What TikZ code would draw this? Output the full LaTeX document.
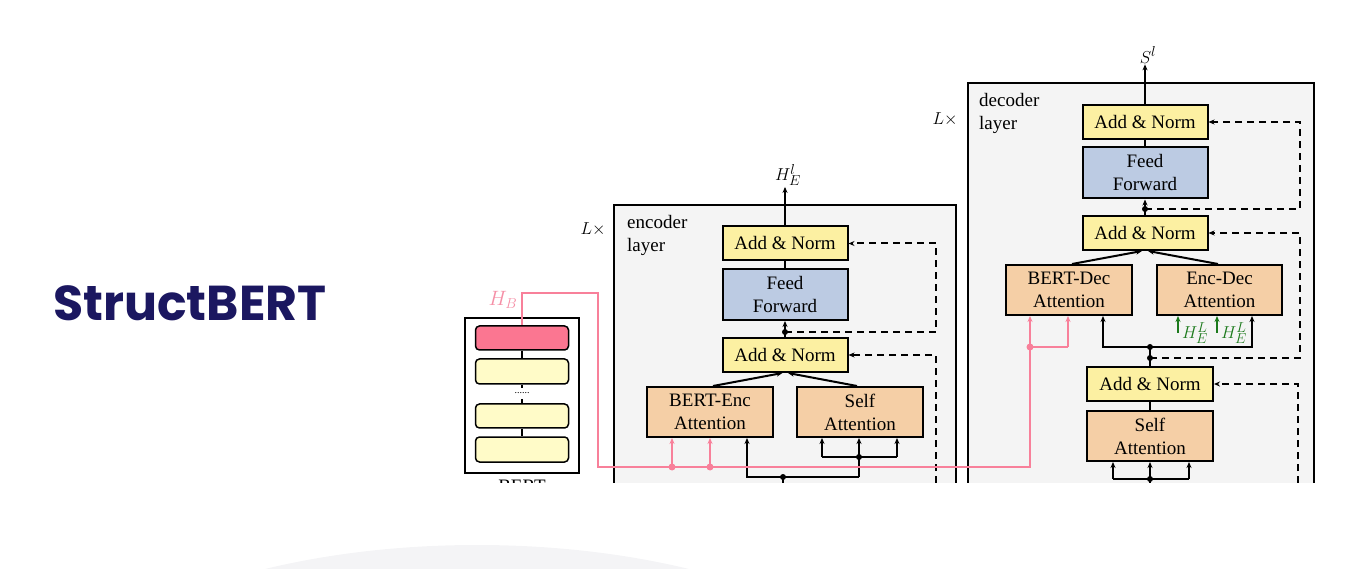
\documentclass[tikz,border=0pt]{standalone}
\usepackage{fontspec}
\setmainfont{Liberation Serif}
\newfontfamily\poppins{Poppins}
\usetikzlibrary{arrows.meta}
\definecolor{navy}{HTML}{1B1760}
\definecolor{arcgray}{HTML}{F4F4F6}
\definecolor{layergray}{HTML}{F4F4F4}
\definecolor{anyellow}{HTML}{FCF0A2}
\definecolor{ffblue}{HTML}{BCCBE3}
\definecolor{attpeach}{HTML}{F5CFA6}
\definecolor{pinkblock}{HTML}{FB7691}
\definecolor{bertyellow}{HTML}{FFFBC8}
\definecolor{pinkc}{HTML}{F8809A}
\definecolor{hbpink}{HTML}{F58FA6}
\definecolor{greenc}{HTML}{1C7A1C}
\begin{document}
\begin{tikzpicture}[x=1pt,y=-1pt,
  txt/.style={font=\fontsize{19}{23}\selectfont},
  box/.style={draw=black, line width=2pt, inner sep=0pt, align=center, txt},
  an/.style={box, fill=anyellow, minimum width=125pt, minimum height=34pt},
  ff/.style={box, fill=ffblue, minimum width=125pt, minimum height=51pt},
  att/.style={box, fill=attpeach, minimum width=126pt, minimum height=50pt},
  layerbox/.style={draw=black, line width=1.8pt, fill=layergray},
  tip/.style={-{Stealth[length=6pt,width=5pt]}},
  arr/.style={line width=2pt, tip},
  conn/.style={line width=2pt},
  dashline/.style={line width=2pt, dash pattern=on 7pt off 5pt, tip},
  pinkline/.style={draw=pinkc, line width=2pt},
  pinkarr/.style={draw=pinkc, line width=2pt, -{Stealth[length=6pt,width=5pt,fill=pinkc]}},
  greenarr/.style={draw=greenc, line width=2pt, -{Stealth[length=6pt,width=5pt,fill=greenc]}},
  bblock/.style={draw=black, line width=1.5pt, rounded corners=4pt, minimum width=93pt, inner sep=0pt},
  lab/.style={inner sep=1pt, txt}
]
\useasboundingbox (0,0) rectangle (1345,569);
\fill[arcgray] (477,745) ellipse [x radius=446pt, y radius=200pt];
\node[anchor=base west, inner sep=0pt, text=navy, font=\poppins\bfseries\fontsize{49}{59}\selectfont] (title) at (53,321) {StructBERT};

\begin{scope}
\clip (440,0) rectangle (1345,482);
% layer boxes
\draw[layerbox] (614,205) rectangle (956,495);
\draw[layerbox] (968,83) rectangle (1314,495);
\node[lab, anchor=north west, align=left] (enclab) at (626,214) {encoder\\layer};
\node[lab, anchor=north west, align=left] (declab) at (978,92) {decoder\\layer};
\node[lab] (eL) at (593,229) {$L\times$};
\node[lab] (dL) at (945,119) {$L\times$};

% BERT stack
\node[draw=black, line width=1.3pt, fill=white, minimum width=114pt, minimum height=155pt, inner sep=0pt] (bert) at (522,395.5) {};
\node[bblock, fill=pinkblock, minimum height=24pt] (bP) at (522,338) {};
\node[bblock, fill=bertyellow, minimum height=25pt] (b1) at (522,371.5) {};
\node[bblock, fill=bertyellow, minimum height=24pt] (b2) at (522,416) {};
\node[bblock, fill=bertyellow, minimum height=25pt] (b3) at (522,449.5) {};
\node[inner sep=0pt, font=\fontsize{10}{10}\selectfont] (bdots) at (522,393) {......};
\coordinate (bd1) at (522,388);
\coordinate (bd2) at (522,399);
\draw[conn] (bP.south) -- (b1.north);
\draw[conn] (b1.south) -- (bd1);
\draw[conn] (bd2) -- (b2.north);
\draw[conn] (b2.south) -- (b3.north);
\node[lab, anchor=base] (bertlab) at (522,492) {BERT};
\node[lab, text=hbpink, font=\fontsize{20}{24}\selectfont] (hb) at (503,300) {$H_B$};

% encoder
\node[an] (eAN2) at (785,243.5) {Add \& Norm};
\node[ff] (eFF) at (785,294.5) {Feed\\Forward};
\node[an] (eAN1) at (785,355) {Add \& Norm};
\node[att] (eBE) at (710,412) {BERT-Enc\\Attention};
\node[att] (eSA) at (860,412) {Self\\Attention};
\node[lab] (hEl) at (788,175) {$H_E^l$};
\draw[arr] (eAN2.north) -- (eAN2.north |- hEl.south);
\draw[conn] (eAN2.south) -- (eFF.north);
\coordinate (ej1) at (785,332);
\draw[arr] (eAN1.north) -- (eFF.south);
\fill (ej1) circle (3pt);
\draw[dashline] (ej1) -- (936,332) |- (eAN2.east);
\coordinate (ein2) at (936,495);
\draw[dashline] (ein2) |- (eAN1.east);
\draw[arr] ([xshift=3pt]eBE.north) -- ([xshift=-2.5pt]eAN1.south);
\draw[arr] ([xshift=-3pt]eSA.north) -- ([xshift=3pt]eAN1.south);
\coordinate (eb1) at (747,477);
\coordinate (eb2) at (859,477);
\coordinate (eb3) at (859,457);
\coordinate (ec) at (783,477);
\coordinate (ein) at (783,495);
\coordinate (esl) at (822,457);
\coordinate (esr) at (897,457);
\draw[arr] (eb2) -- (eb1) -- (eb1 |- eBE.south);
\draw[conn] (eb2) -- (eb3);
\draw[arr] (eb3) -- (eb3 |- eSA.south);
\draw[conn] (esl) -- (esr);
\draw[arr] (esl) -- (esl |- eSA.south);
\draw[arr] (esr) -- (esr |- eSA.south);
\draw[conn] (ein) -- (ec);
\fill (ec) circle (3pt);
\fill (eb3) circle (3pt);

% decoder
\node[an] (dAN3) at (1145,122) {Add \& Norm};
\node[ff] (dFF) at (1145,173) {Feed\\Forward};
\node[an] (dAN2) at (1145,233) {Add \& Norm};
\node[att] (dBD) at (1069,290) {BERT-Dec\\Attention};
\node[att, minimum width=125pt] (dED) at (1219.5,290) {Enc-Dec\\Attention};
\node[an, minimum width=126pt] (dAN1) at (1150,384) {Add \& Norm};
\node[att] (dSA) at (1150,436) {Self\\Attention};
\node[lab] (Sl) at (1148,55) {$S^l$};
\draw[arr] (dAN3.north) -- (dAN3.north |- Sl.south);
\draw[conn] (dAN3.south) -- (dFF.north);
\coordinate (dj1) at (1145,209);
\draw[arr] (dAN2.north) -- (dFF.south);
\fill (dj1) circle (3pt);
\draw[dashline] (dj1) -- (1300,209) |- (dAN3.east);
\coordinate (dj2) at (1150,358);
\coordinate (dj3) at (1150,347);
\draw[conn] (dAN1.north) -- (dj3);
\draw[dashline] (dj2) -- (1300,358) |- (dAN2.east);
\coordinate (din2) at (1298,495);
\draw[dashline] (din2) |- (dAN1.east);
\coordinate (dl) at (1103,347);
\coordinate (dr) at (1252,347);
\draw[arr] (dj3) -- (dl) -- (dl |- dBD.south);
\draw[arr] (dj3) -- (dr) -- (dr |- dED.south);
\fill (dj2) circle (3pt);
\fill (dj3) circle (3pt);
\draw[arr] ([xshift=3pt]dBD.north) -- ([xshift=-3pt]dAN2.south);
\draw[arr] ([xshift=-1.5pt]dED.north) -- ([xshift=3pt]dAN2.south);
\coordinate (g1) at (1178,333);
\coordinate (g2) at (1217,333);
\draw[greenarr] (g1) -- (g1 |- dED.south);
\draw[greenarr] (g2) -- (g2 |- dED.south);
\node[lab, text=greenc] (hEL1) at (1195,333) {$H_E^L$};
\node[lab, text=greenc] (hEL2) at (1234,333) {$H_E^L$};
\draw[conn] (dAN1.south) -- (dSA.north);
\coordinate (dsl) at (1113,479);
\coordinate (dsm) at (1150,479);
\coordinate (dsr) at (1189,479);
\coordinate (dsin) at (1150,495);
\draw[conn] (dsl) -- (dsr);
\draw[arr] (dsl) -- (dsl |- dSA.south);
\draw[arr] (dsm) -- (dsm |- dSA.south);
\draw[arr] (dsr) -- (dsr |- dSA.south);
\draw[conn] (dsin) -- (dsm);
\fill (dsm) circle (3pt);

% pink connector H_B
\coordinate (p1) at (522,293);
\coordinate (p2) at (598,293);
\coordinate (p3) at (598,467);
\coordinate (p4) at (1030,467);
\coordinate (pd1) at (1030,347);
\coordinate (pd2) at (1068,347);
\coordinate (pe1) at (672,467);
\coordinate (pe2) at (710,467);
\draw[pinkline] (bP.north) -- (p1) -- (p2) -- (p3) -- (p4) -- (pd1);
\draw[pinkarr] (pd1) -- (pd1 |- dBD.south);
\draw[pinkline] (pd1) -- (pd2);
\draw[pinkarr] (pd2) -- (pd2 |- dBD.south);
\draw[pinkarr] (pe1) -- (pe1 |- eBE.south);
\draw[pinkarr] (pe2) -- (pe2 |- eBE.south);
\fill[pinkc] (pe1) circle (3.5pt);
\fill[pinkc] (pe2) circle (3.5pt);
\fill[pinkc] (pd1) circle (3.5pt);
\end{scope}
\end{tikzpicture}
\end{document}
